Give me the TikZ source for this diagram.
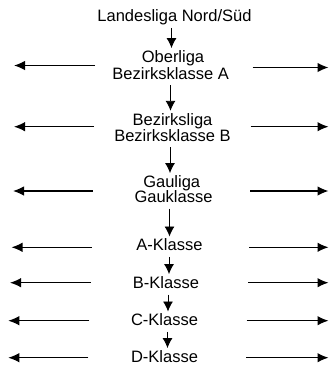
\documentclass[tikz,border=0pt]{standalone}
\usepackage{fontspec}
\setmainfont{Liberation Sans}
\usetikzlibrary{arrows.meta}
\begin{document}
\begin{tikzpicture}[x=1pt,y=-1pt,
  lvl/.style={anchor=base,inner xsep=0pt,inner ysep=2.5pt,text height=11.5pt,text depth=3.5pt,font=\fontsize{16.5}{18}\selectfont},
  dn/.style={line width=0.9pt,-{Latex[length=10pt,width=10pt]}},
  side/.style={line width=1.2pt,-{Latex[length=11pt,width=9.5pt]}}]
\useasboundingbox (0,0) rectangle (329,365);
% texts
\node[lvl] (L)  at (174.5,21.7) {Landesliga Nord/Süd};
\node[lvl] (O1) at (173,62.3) {Oberliga};
\node[lvl] (O2) at (170.7,79) {Bezirksklasse A};
\node[lvl] (B1) at (172.5,125) {Bezirksliga};
\node[lvl] (B2) at (172.5,141) {Bezirksklasse B};
\node[lvl] (G1) at (171.7,187.3) {Gauliga};
\node[lvl] (G2) at (173.5,202.3) {Gauklasse};
\node[lvl] (A)  at (169.5,250.7) {A-Klasse};
\node[lvl] (Bk) at (166,288.3) {B-Klasse};
\node[lvl] (C)  at (164.5,325.7) {C-Klasse};
\node[lvl] (D)  at (164.5,362.3) {D-Klasse};
% arrow columns
\coordinate (x1) at (171.5,0);
\coordinate (x2) at (170.5,0);
\coordinate (x3) at (170,0);
\coordinate (x4) at (169.5,0);
\coordinate (x5) at (169,0);
\coordinate (x6) at (168,0);
\coordinate (x7) at (167.5,0);
\draw[dn] (L.south -| x1) -- (O1.north -| x1);
\draw[dn] (O2.south -| x2) -- (B1.north -| x2);
\draw[dn] (B2.south -| x3) -- (G1.north -| x3);
\draw[dn] (G2.south -| x4) -- (A.north -| x4);
\draw[dn] (A.south -| x5) -- (Bk.north -| x5);
\draw[dn] (Bk.south -| x6) -- (C.north -| x6);
\draw[dn] (C.south -| x7) -- (D.north -| x7);
% side arrows
\coordinate (l1s) at (95,65.5);   \coordinate (l1e) at (14,65.5);
\coordinate (r1s) at (252.7,67.5); \coordinate (r1e) at (328.5,67.5);
\coordinate (l2s) at (94,126.7);  \coordinate (l2e) at (14,126.7);
\coordinate (r2s) at (250.7,126.7); \coordinate (r2e) at (328.5,126.7);
\coordinate (l3s) at (92.7,191);  \coordinate (l3e) at (13,191);
\coordinate (r3s) at (250,191);   \coordinate (r3e) at (328.5,191);
\coordinate (l4s) at (91.7,247.3); \coordinate (l4e) at (11.5,247.3);
\coordinate (r4s) at (249.3,247.3); \coordinate (r4e) at (328.5,247.3);
\coordinate (l5s) at (90.7,282.7); \coordinate (l5e) at (10,282.7);
\coordinate (r5s) at (248.3,282.7); \coordinate (r5e) at (328.5,282.7);
\coordinate (l6s) at (89.3,320.7); \coordinate (l6e) at (8.3,320.7);
\coordinate (r6s) at (246.7,320.7); \coordinate (r6e) at (328.5,320.7);
\coordinate (l7s) at (88.3,357.7); \coordinate (l7e) at (8.3,357.7);
\coordinate (r7s) at (246,357.7); \coordinate (r7e) at (328.5,357.7);
\foreach \i in {1,...,7}{
  \draw[side] (l\i s) -- (l\i e);
  \draw[side] (r\i s) -- (r\i e);
}
\end{tikzpicture}
\end{document}
